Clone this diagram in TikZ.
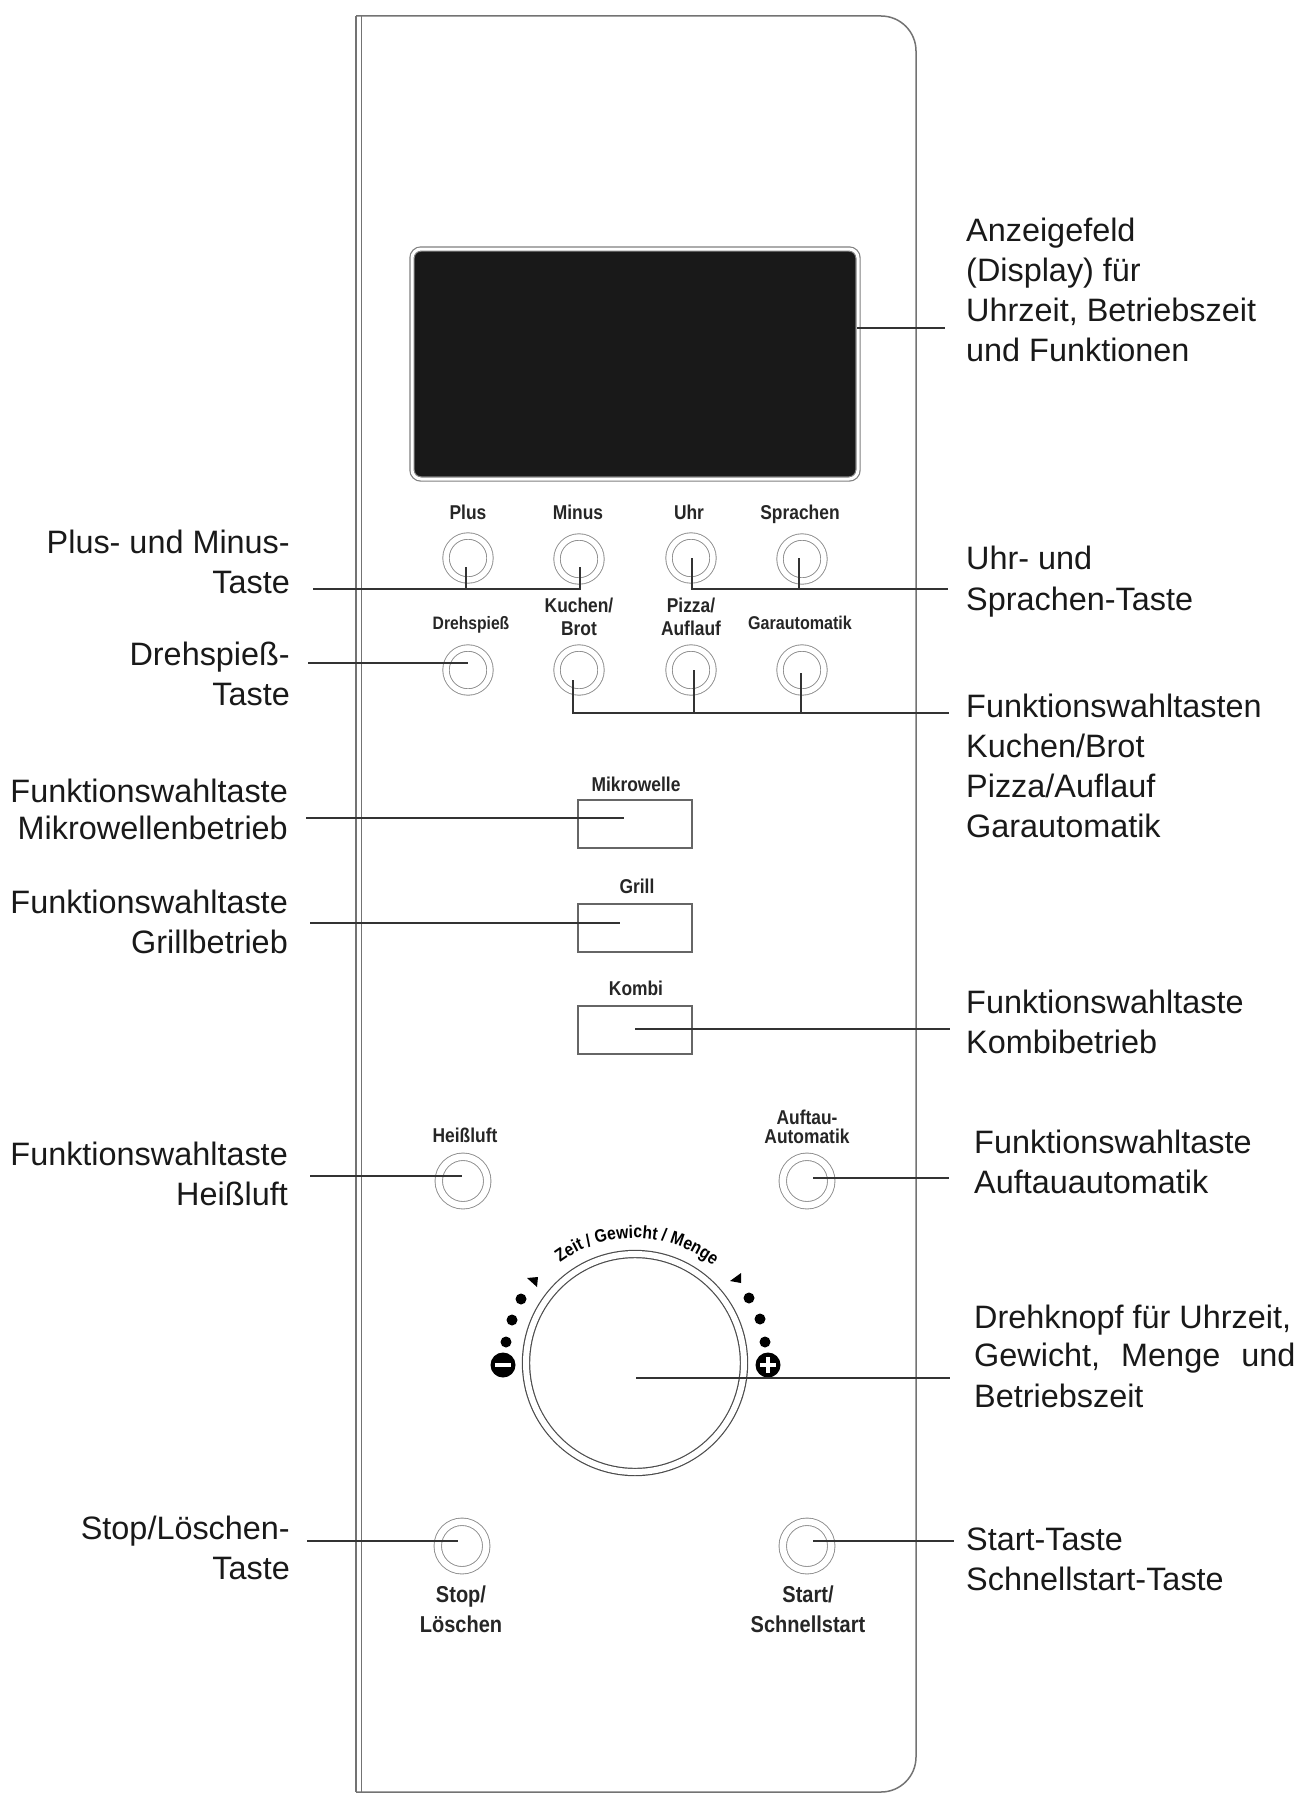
\documentclass[tikz,border=0pt]{standalone}
\usepackage{fontspec}
\setmainfont{Liberation Sans}
\newfontfamily\keyfont[FakeStretch=0.87]{Liberation Sans}
\usetikzlibrary{positioning}
\usetikzlibrary{decorations.text}

\begin{document}
\begin{tikzpicture}[x=1pt, y=-1pt,
    panelline/.style={draw=black!55, line width=1.5pt},
    leader/.style={draw=black!80, line width=1.5pt},
    ringkey/.style={draw=black!45, circle, double, double distance=5.5pt, line width=0.9pt, inner sep=0pt, minimum size=44pt},
    bigringkey/.style={ringkey, double distance=6.5pt, minimum size=48.5pt},
    rectkey/.style={draw=black!60, line width=1.6pt, inner sep=0pt, minimum width=114pt, minimum height=48pt},
    keytext/.style={font=\keyfont\bfseries\fontsize{20}{23}\selectfont, text=black!85, align=center, inner sep=0pt},
    bigkeytext/.style={font=\keyfont\bfseries\fontsize{23}{30}\selectfont, text=black!85, align=center, inner sep=0pt},
    lefttext/.style={font=\fontsize{32.4}{40}\selectfont, text=black!90, align=right, anchor=east, inner sep=0pt},
    righttext/.style={font=\fontsize{32.4}{40}\selectfont, text=black!90, align=left, anchor=west, inner sep=0pt},
    tickdot/.style={fill=black, circle, inner sep=0pt, minimum size=11pt},
    signdot/.style={fill=black, circle, inner sep=0pt, minimum size=25pt}]
  \useasboundingbox (0,0) rectangle (1296,1801);

  % Gehaeuse
  \draw[panelline, rounded corners=35pt] (356,16) -- (916,16) -- (916,1792) -- (356,1792);
  \draw[panelline] (356,16) -- (356,1792);
  \draw[panelline] (361.5,16) -- (361.5,1792);

  % Anzeige
  \node[draw=black!50, fill=black!90, double, double distance=3pt, line width=1.2pt, rounded corners=9pt,
        inner sep=0pt, minimum width=446pt, minimum height=230pt] (display) at (635,364) {};

  % Tasten
  \node[ringkey] (plus) at (468,558) {};
  \node[ringkey] (minus) at (579,559) {};
  \node[ringkey] (uhr) at (691,558) {};
  \node[ringkey] (sprachen) at (802,559) {};
  \node[ringkey] (spiess) at (468,670) {};
  \node[ringkey] (kuchen) at (579,670) {};
  \node[ringkey] (pizza) at (691,670) {};
  \node[ringkey] (garen) at (802,670) {};
  \node[rectkey] (mikro) at (635,824) {};
  \node[rectkey] (grill) at (635,928) {};
  \node[rectkey] (kombi) at (635,1030) {};
  \node[bigringkey] (heiss) at (463,1181) {};
  \node[bigringkey] (auftau) at (807,1181) {};
  \node[bigringkey] (stop) at (462,1546) {};
  \node[bigringkey] (start) at (807,1546) {};

  % Drehknopf
  \node[draw=black!70, circle, double, double distance=6pt, line width=1.2pt, inner sep=0pt, minimum size=218pt] (knopf) at (635,1363) {};
  \path[postaction={decorate}, decoration={text along path, text align=center,
        text={|\keyfont\bfseries\fontsize{18}{18}\selectfont|Zeit / Gewicht / Menge}}]
        (561.5,1261.9) arc[start angle=126, end angle=52, radius=125pt];
  \node[tickdot] (dotA) at (506,1342) {};
  \node[tickdot] (dotB) at (512,1320) {};
  \node[tickdot] (dotC) at (521,1299) {};
  \node[tickdot] (dotD) at (765,1342) {};
  \node[tickdot] (dotE) at (760,1319) {};
  \node[tickdot] (dotF) at (749,1298) {};
  \fill[black] (527,1278) -- (538,1277) -- (537,1287) -- cycle;
  \fill[black] (730,1281) -- (741,1273) -- (741,1283) -- cycle;
  \node[signdot] (minuszeichen) at (503,1365) {};
  \node[signdot] (pluszeichen) at (768,1365) {};
  \draw[white, line width=3.5pt] (495,1365) -- (511,1365);
  \draw[white, line width=3.5pt] (760,1365) -- (776,1365);
  \draw[white, line width=3.5pt] (768,1357) -- (768,1373);

  % Tastentexte
  \node[keytext] (tPlus) at (468,512) {Plus};
  \node[keytext] (tMinus) at (578,512) {Minus};
  \node[keytext] (tUhr) at (689,512) {Uhr};
  \node[keytext] (tSprachen) at (800,514) {Sprachen};
  \node[keytext, font=\keyfont\bfseries\fontsize{18}{23}\selectfont] (tSpiess) at (471,625) {Drehspieß};
  \node[keytext] (tKuchen) at (579,617) {Kuchen/\\Brot};
  \node[keytext] (tPizza) at (691,617) {Pizza/\\Auflauf};
  \node[keytext, font=\keyfont\bfseries\fontsize{18.5}{23}\selectfont] (tGaren) at (800,623) {Garautomatik};
  \node[keytext] (tMikro) at (636,784) {Mikrowelle};
  \node[keytext] (tGrill) at (637,886) {Grill};
  \node[keytext] (tKombi) at (636,988) {Kombi};
  \node[keytext] (tHeiss) at (465,1135) {Heißluft};
  \node[keytext, font=\keyfont\bfseries\fontsize{20}{19}\selectfont] (tAuftau) at (807,1127) {Auftau-\\Automatik};
  \node[bigkeytext] (tStop) at (461,1609) {Stop/\\Löschen};
  \node[bigkeytext] (tStart) at (808,1609) {Start/\\Schnellstart};

  % Beschriftung links
  \node[lefttext] (lPlus) at (290,562) {Plus- und Minus-\\Taste};
  \node[lefttext] (lSpiess) at (290,674) {Drehspieß-\\Taste};
  \node[lefttext] (lMikro) at (288,809) {Funktionswahltaste\\[-3pt]Mikrowellenbetrieb};
  \node[lefttext] (lGrill) at (288,922) {Funktionswahltaste\\Grillbetrieb};
  \node[lefttext] (lHeiss) at (288,1174) {Funktionswahltaste\\Heißluft};
  \node[lefttext] (lStop) at (290,1548) {Stop/Löschen-\\Taste};

  % Beschriftung rechts
  \node[righttext] (rDisplay) at (966,290) {Anzeigefeld\\(Display) für\\Uhrzeit, Betriebszeit\\und Funktionen};
  \node[righttext] (rUhr) at (966,582) {Uhr- und\\[1pt]Sprachen-Taste};
  \node[righttext] (rFunktion) at (966,766) {Funktionswahltasten\\Kuchen/Brot\\Pizza/Auflauf\\Garautomatik};
  \node[righttext] (rKombi) at (966,1022) {Funktionswahltaste\\Kombibetrieb};
  \node[righttext] (rAuftau) at (974,1162) {Funktionswahltaste\\Auftauautomatik};
  \node[righttext] (rKnopf) at (974,1356) {Drehknopf für Uhrzeit,\\[-2pt]Gewicht,\hspace{12pt} Menge\hspace{12pt} und\\[1pt]Betriebszeit};
  \node[righttext] (rStart) at (966,1559) {Start-Taste\\Schnellstart-Taste};

  % Linienenden
  \coordinate (a1) at (313,589);
  \coordinate (a2) at (466,567);
  \coordinate (a3) at (466,589);
  \coordinate (a4) at (580,567);
  \coordinate (b1) at (692,558);
  \coordinate (b2) at (948,589);
  \coordinate (b3) at (799,558);
  \coordinate (b4) at (799,589);
  \coordinate (c1) at (308,663);
  \coordinate (c2) at (468,663);
  \coordinate (d1) at (573,680);
  \coordinate (d2) at (949,713);
  \coordinate (d3) at (694,670);
  \coordinate (d4) at (694,713);
  \coordinate (d5) at (801,673);
  \coordinate (d6) at (801,713);
  \coordinate (e1) at (857,328);
  \coordinate (e2) at (945,328);
  \coordinate (f1) at (306,818);
  \coordinate (f2) at (624,818);
  \coordinate (g1) at (310,923);
  \coordinate (g2) at (620,923);
  \coordinate (h1) at (635,1029);
  \coordinate (h2) at (950,1029);
  \coordinate (i1) at (310,1176);
  \coordinate (i2) at (462,1176);
  \coordinate (j1) at (813,1178);
  \coordinate (j2) at (949,1178);
  \coordinate (k1) at (636,1378);
  \coordinate (k2) at (950,1378);
  \coordinate (m1) at (307,1541);
  \coordinate (m2) at (458,1541);
  \coordinate (n1) at (813,1541);
  \coordinate (n2) at (954,1541);

  % Linien
  \draw[leader] (a1) -| (a4);
  \draw[leader] (a2) -- (a3);
  \draw[leader] (b1) |- (b2);
  \draw[leader] (b3) -- (b4);
  \draw[leader] (c1) -- (c2);
  \draw[leader] (d1) |- (d2);
  \draw[leader] (d3) -- (d4);
  \draw[leader] (d5) -- (d6);
  \draw[leader] (e1) -- (e2);
  \draw[leader] (f1) -- (f2);
  \draw[leader] (g1) -- (g2);
  \draw[leader] (h1) -- (h2);
  \draw[leader] (i1) -- (i2);
  \draw[leader] (j1) -- (j2);
  \draw[leader] (k1) -- (k2);
  \draw[leader] (m1) -- (m2);
  \draw[leader] (n1) -- (n2);
\end{tikzpicture}
\end{document}
